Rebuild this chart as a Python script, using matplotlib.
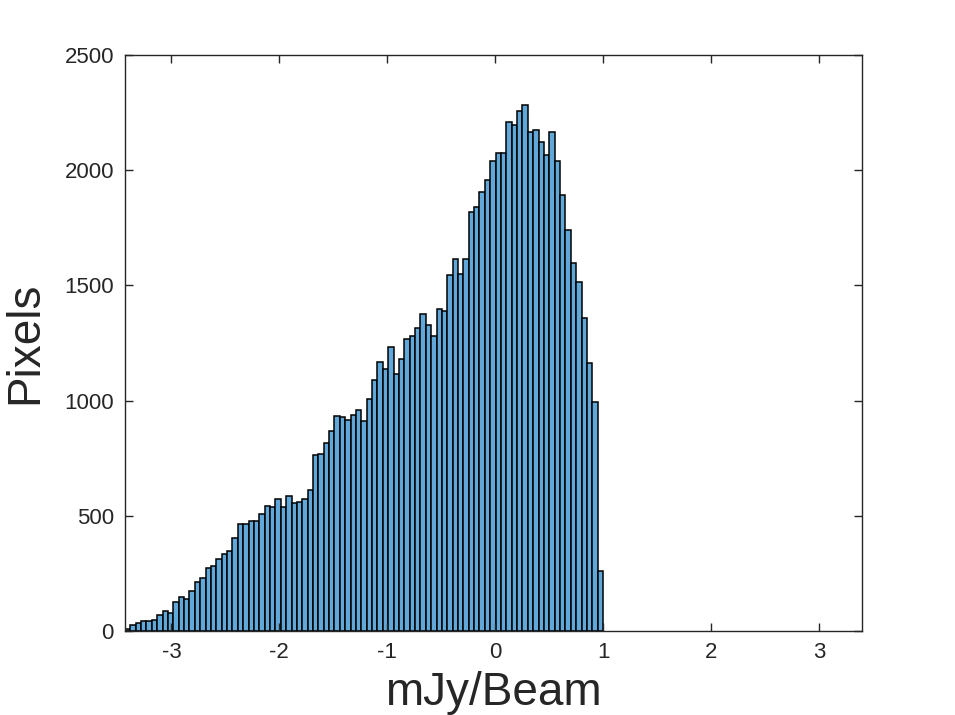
"""
Pixel histogram of map values (mJy/Beam).
"""
import matplotlib
matplotlib.use("Agg")
import matplotlib.pyplot as plt
import numpy as np

# histogram counts per bin, read left to right
counts = [
    10, 25, 36, 43, 43, 46, 68, 88, 80, 127,
    146, 140, 175, 211, 230, 275, 282, 312, 333, 349,
    405, 464, 464, 477, 477, 508, 543, 538, 573, 540,
    586, 554, 561, 573, 612, 762, 767, 815, 867, 935,
    930, 916, 937, 959, 910, 1008, 1089, 1166, 1136, 1231,
    1114, 1179, 1269, 1279, 1314, 1376, 1328, 1282, 1396, 1388,
    1547, 1615, 1548, 1615, 1817, 1839, 1907, 1957, 2040, 2076,
    2073, 2209, 2195, 2258, 2284, 2167, 2176, 2122, 2066, 2164,
    2041, 1891, 1740, 1596, 1515, 1358, 1165, 993, 262,
]
bin_lo = -3.43
bin_hi = 1.0
x_ticks = [-3, -2, -1, 0, 1, 2, 3]
y_ticks = [0, 500, 1000, 1500, 2000, 2500]

edges = np.linspace(bin_lo, bin_hi, len(counts) + 1)
widths = np.diff(edges)

plt.rcParams["font.family"] = ["Liberation Sans", "DejaVu Sans"]
plt.rcParams["axes.unicode_minus"] = False

fig = plt.figure(figsize=(9.55, 7.15), dpi=100)
ax = fig.add_axes([0.1309, 0.1175, 0.7717, 0.8056])

ax.bar(edges[:-1], counts, width=widths, align="edge",
       color="#5fa8d9", edgecolor="black", linewidth=1.1)

ax.set_xlim(-3.43, 3.40)
ax.set_ylim(0, 2500)
ax.set_xticks(x_ticks)
ax.set_yticks(y_ticks)

txt = "#262626"
ax.set_xlabel("mJy/Beam", fontsize=33, color=txt, labelpad=6)
ax.set_ylabel("Pixels", fontsize=33, color=txt, labelpad=12)

for s in ax.spines.values():
    s.set_color(txt)
    s.set_linewidth(1.0)
ax.tick_params(direction="in", top=True, right=True, length=6,
               width=1.0, colors=txt, labelsize=16, pad=8)

fig.savefig("out.png", dpi=100, facecolor="white")
